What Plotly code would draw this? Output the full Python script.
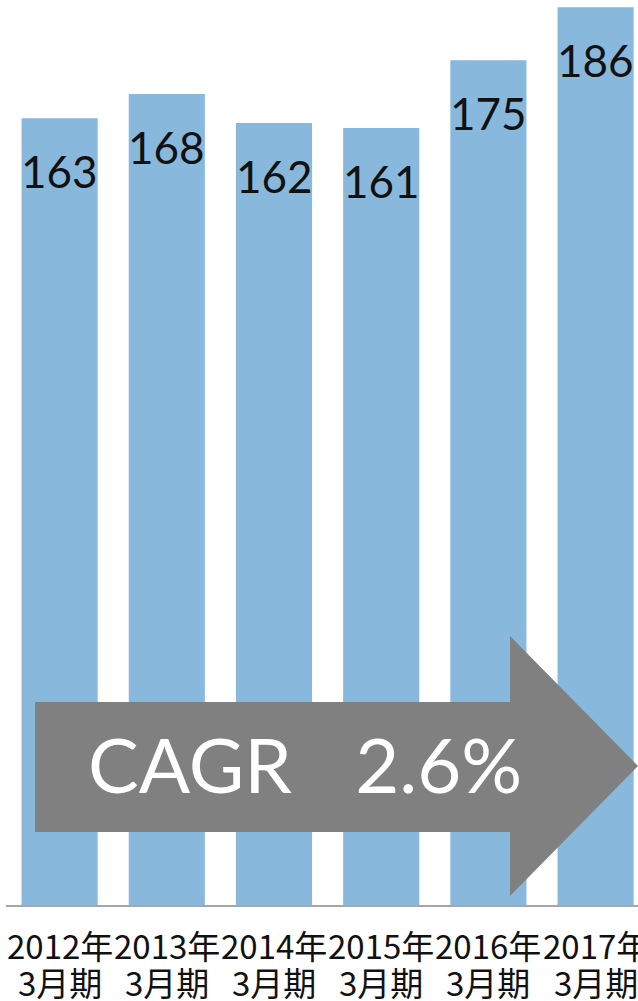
import plotly.graph_objects as go

years = ["2012年", "2013年", "2014年", "2015年", "2016年", "2017年"]
periods = ["3月期", "3月期", "3月期", "3月期", "3月期", "3月期"]
values = [163, 168, 162, 161, 175, 186]
cagr_label = "CAGR\u2002\u20042.6%"

W, H = 638, 1001
L, R, T, B = 6, 0, 0, 96
PW, PH = W - L - R, H - T - B

def px(x):
    return (x - L) / PW

def py(y):
    return (H - B - y) / PH

xs = list(range(len(years)))

fig = go.Figure()
fig.add_trace(go.Bar(x=xs, y=values, marker=dict(color="#88B9DC", line=dict(width=0)),
                     width=0.71, hoverinfo="skip"))

for x, v in zip(xs, values):
    fig.add_annotation(x=x, y=v, text=str(v), showarrow=False, yanchor="middle",
                       yshift=-53, font=dict(family="Lato, Noto Sans", size=44, color="#111111"))

tick_font = dict(family="Noto Sans CJK JP", size=33, color="#111111")
for x, yr, pd_ in zip(xs, years, periods):
    fig.add_annotation(x=x, y=py(945), yref="paper", text=yr, showarrow=False,
                       yanchor="middle", font=tick_font)
    fig.add_annotation(x=x, y=py(982), yref="paper", text=pd_, showarrow=False,
                       yanchor="middle", font=tick_font)

pts = [(35, 702), (510, 702), (510, 636), (638, 766), (510, 896), (510, 832), (35, 832)]
path = "M " + " L ".join(f"{px(a):.4f},{py(b):.4f}" for a, b in pts) + " Z"
fig.add_shape(type="path", path=path, xref="paper", yref="paper",
              fillcolor="#808080", line=dict(width=0))
fig.add_annotation(x=px(305), y=py(763), xref="paper", yref="paper", text=cagr_label,
                   showarrow=False, xanchor="center", yanchor="middle",
                   font=dict(family="Lato, Noto Sans", size=76, color="white"))

fig.update_layout(
    width=W, height=H, margin=dict(l=L, r=R, t=T, b=B, autoexpand=False),
    paper_bgcolor="white", plot_bgcolor="white", showlegend=False,
    xaxis=dict(range=[-0.5, -0.5 + PW / 107.2], tickmode="array", tickvals=xs,
               showticklabels=False, showgrid=False, zeroline=False, showline=True,
               linecolor="#A6A6A6", linewidth=1.5, ticks="", automargin=False),
    yaxis=dict(range=[0, 187.5], visible=False, showgrid=False, zeroline=False,
               automargin=False),
)
fig.write_html("out.html", config={"displayModeBar": False},
               post_script="document.body.style.margin='0';document.body.style.padding='0';")
